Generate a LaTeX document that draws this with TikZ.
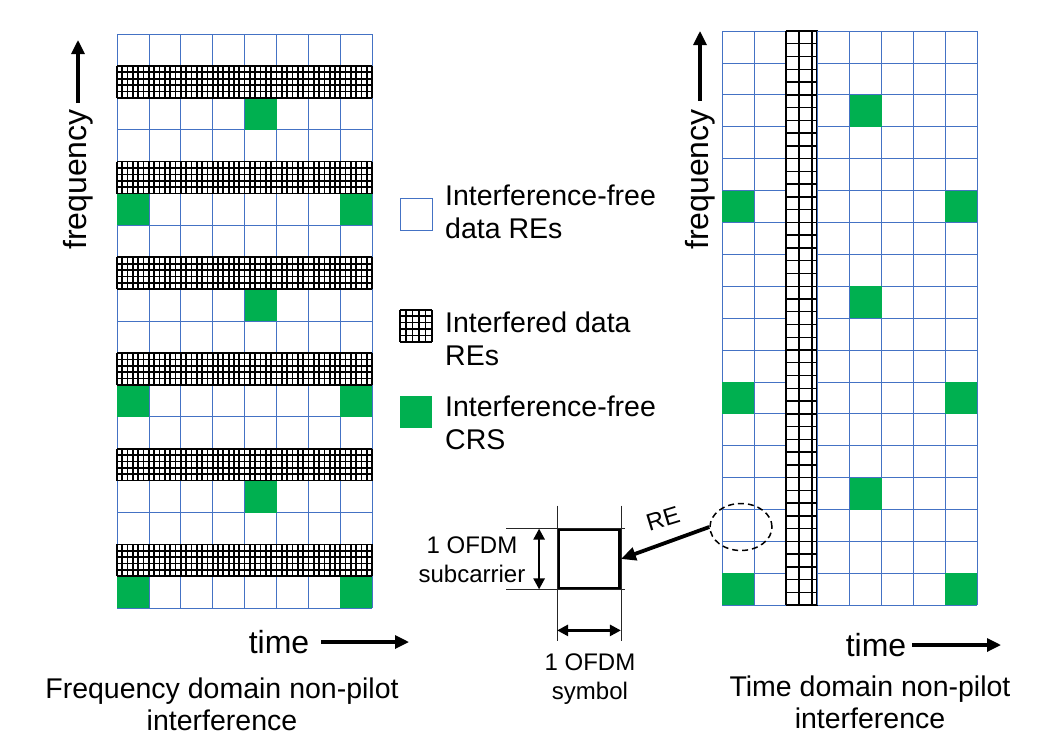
\documentclass[tikz,border=0pt]{standalone}
\usepackage{fontspec}
\setmainfont{Liberation Sans}
\usetikzlibrary{positioning,arrows.meta,shapes.geometric}
\definecolor{gridblue}{RGB}{68,114,196}
\definecolor{crsgreen}{RGB}{0,176,80}

\begin{document}
\begin{tikzpicture}[x=1pt, y=-1pt,
  gridline/.style={gridblue, line width=0.8pt},
  hatchline/.style={black, line width=1.7pt},
  crs/.style={fill=crsgreen},
  bigarrow/.style={line width=3.2pt, -{Triangle[length=14pt,width=13pt]}},
  dimarrow/.style={line width=2.6pt, {Triangle[length=11pt,width=11pt]}-{Triangle[length=11pt,width=11pt]}},
  extline/.style={black!85, line width=0.6pt},
  biglbl/.style={font=\fontsize{32}{36}\selectfont, inner sep=2pt},
  lgd/.style={font=\fontsize{28.5}{33}\selectfont, align=left, anchor=north west, inner sep=0pt},
  caplbl/.style={font=\fontsize{28.5}{32}\selectfont, align=center, anchor=north, inner sep=0pt},
  dimlbl/.style={font=\fontsize{24}{29}\selectfont, align=center, inner sep=0pt},
  swatch/.style={minimum size=32pt, inner sep=0pt}]
  \useasboundingbox (0,0) rectangle (1050,750);

  \begin{scope}[shift={(117,34)}, x=31.9pt, y=-31.9pt]
    \foreach \i in {0,...,8} \draw[gridline] (\i,0)--(\i,18);
    \foreach \j in {0,...,18} \draw[gridline] (0,\j)--(8,\j);
    \foreach \c/\r in {4/2,0/5,7/5,4/8,0/11,7/11,4/14,0/17,7/17} \fill[crs] (\c,\r) rectangle ++(1,1);
    \foreach \r in {1,4,7,10,13,16} {
      \fill[white] (0,\r) rectangle (8,\r+1);
      \foreach \k in {0,...,48} \draw[hatchline] (\k/6,\r)--(\k/6,\r+1);
      \foreach \m in {0,...,5} \draw[hatchline] (0,\r+\m/5)--(8,\r+\m/5);
    }
  \end{scope}

  \begin{scope}[shift={(722,31)}, x=31.9pt, y=-31.9pt]
    \foreach \i in {0,...,8} \draw[gridline] (\i,0)--(\i,18);
    \foreach \j in {0,...,18} \draw[gridline] (0,\j)--(8,\j);
    \foreach \c/\r in {4/2,0/5,7/5,4/8,0/11,7/11,4/14,0/17,7/17} \fill[crs] (\c,\r) rectangle ++(1,1);
    \fill[white] (2,0) rectangle (3,18);
    \foreach \k in {0,0.41,0.82,0.97} \draw[black, line width=2pt] (2+\k,0)--(2+\k,18);
    \foreach \m in {0,...,45} \draw[black, line width=1.4pt] (2,\m*0.4)--(3,\m*0.4);
    \draw[gridline] (3,0)--(3,18);
  \end{scope}

  % axis labels
  \node[biglbl, rotate=90, anchor=west] (fL) at (78,252) {frequency};
  \coordinate (fLtip) at (78,40);
  \draw[bigarrow, shorten <=4pt] (fL.east) -- (fLtip);
  \node[biglbl, rotate=90, anchor=west] (fR) at (700,252) {frequency};
  \coordinate (fRtip) at (700,31);
  \draw[bigarrow, shorten <=6pt] (fR.east) -- (fRtip);
  \node[biglbl] (tL) at (279,642) {time};
  \coordinate (tLtip) at (409,642);
  \draw[bigarrow, shorten <=10pt] (tL.east) -- (tLtip);
  \node[biglbl] (tR) at (876,645) {time};
  \coordinate (tRtip) at (1001,645);
  \draw[bigarrow, shorten <=4pt] (tR.east) -- (tRtip);

  \node[caplbl] (capL) at (222,678) {Frequency domain non-pilot\\interference};
  \node[caplbl] (capR) at (870,676) {Time domain non-pilot\\interference};

  % legend
  \node[swatch, draw=gridblue, line width=0.8pt] (k1) at (416,214) {};
  \node[lgd] (t1) at (445,185) {Interference-free\\data REs};
  \node[swatch] (k2) at (416,326) {};
  \foreach \k in {0,...,5} {
    \draw[hatchline] ([xshift=\k*6.4pt]k2.north west) -- ([xshift=\k*6.4pt]k2.south west);
    \draw[hatchline] ([yshift=-\k*6.4pt]k2.north west) -- ([yshift=-\k*6.4pt]k2.north east);
  }
  \node[lgd] (t2) at (445,312) {Interfered data\\REs};
  \node[swatch, fill=crsgreen] (k3) at (416,412) {};
  \node[lgd] (t3) at (445,396) {Interference-free\\CRS};

  % single RE
  \node[draw, line width=2.8pt, minimum width=61pt, minimum height=58pt, inner sep=0pt] (re) at (589,559) {};
  \draw[extline] ([xshift=-51pt]re.north west) -- ([xshift=4pt]re.north east);
  \draw[extline] ([xshift=-51pt]re.south west) -- ([xshift=4pt]re.south east);
  \draw[extline] ([yshift=23pt]re.north west) -- ([yshift=-52pt]re.south west);
  \draw[extline] ([yshift=23pt]re.north east) -- ([yshift=-52pt]re.south east);
  \draw[dimarrow] ([xshift=-18pt]re.north west) -- ([xshift=-18pt]re.south west);
  \draw[dimarrow] ([yshift=-41pt]re.south west) -- ([yshift=-41pt]re.south east);
  \node[dimlbl] (sublbl) at (472,560) {1 OFDM\\subcarrier};
  \node[dimlbl] (symlbl) at (590,679) {1 OFDM\\symbol};

  \node[draw, ellipse, dash pattern=on 6pt off 4pt, line width=1.5pt, minimum width=62pt, minimum height=47pt] (sel) at (741,527) {};
  \draw[line width=3.8pt, -{Triangle[length=15pt,width=13pt]}] (sel.west) -- (re.east);
  \node[dimlbl, rotate=17] (relbl) at (663,519) {RE};
\end{tikzpicture}
\end{document}
